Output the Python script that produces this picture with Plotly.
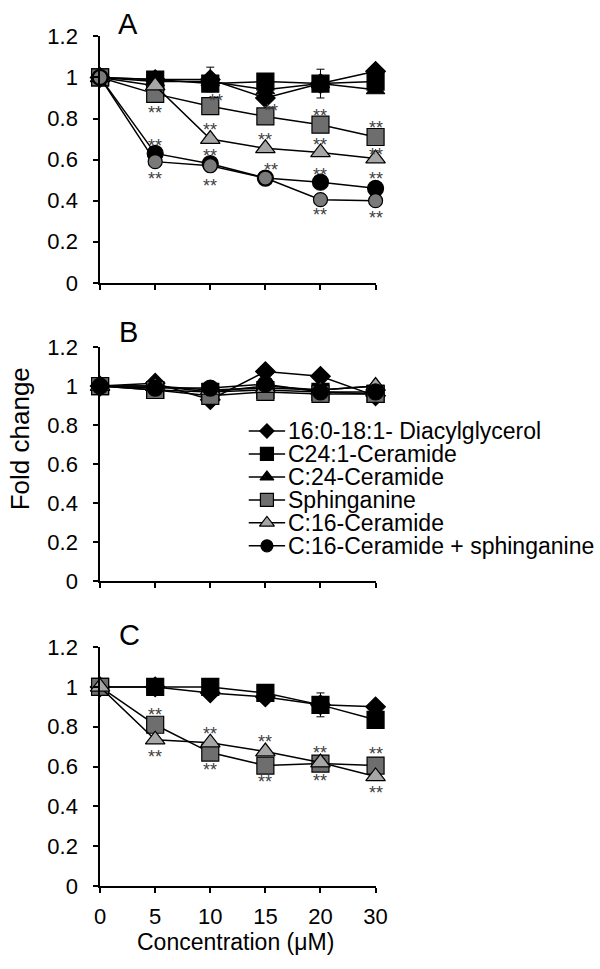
import plotly.graph_objects as go

concentrations = ["0", "5", "10", "15", "20", "30"]
series_names = [
    "16:0-18:1- Diacylglycerol",
    "C24:1-Ceramide",
    "C:24-Ceramide",
    "Sphinganine",
    "C:16-Ceramide",
    "C:16-Ceramide + sphinganine",
]

# Panel A values
a_dag = [1.00, 0.99, 0.99, 0.90, 0.97, 1.03]
a_c241 = [1.00, 0.99, 0.97, 0.98, 0.97, 0.98]
a_c24 = [1.00, 0.98, 0.98, 0.94, 0.97, 0.94]
a_sph = [1.00, 0.92, 0.86, 0.81, 0.77, 0.71]
a_c16 = [1.00, 0.96, 0.70, 0.655, 0.635, 0.605]
a_c16sph = [1.00, 0.63, 0.58, 0.51, 0.49, 0.46]
a_grey_circle = [1.00, 0.59, 0.57, 0.51, 0.405, 0.40]
a_dag_err = [0, 0.02, 0.06, 0.02, 0.02, 0.02]
a_c241_err = [0, 0.01, 0.02, 0.02, 0.07, 0.02]

# Panel B values
b_dag = [1.00, 1.015, 0.93, 1.075, 1.05, 0.95]
b_c241 = [1.00, 0.98, 0.97, 0.98, 0.97, 0.96]
b_c24 = [1.00, 1.00, 0.97, 1.00, 0.98, 1.00]
b_sph = [1.00, 0.98, 0.95, 0.97, 0.96, 0.96]
b_c16 = [1.00, 1.00, 0.98, 0.99, 0.98, 1.00]
b_c16sph = [1.00, 0.99, 0.99, 1.01, 0.97, 0.97]

# Panel C values
c_dag = [1.00, 1.00, 0.97, 0.95, 0.91, 0.90]
c_c241 = [1.00, 1.00, 1.00, 0.97, 0.91, 0.835]
c_sph = [1.00, 0.81, 0.67, 0.605, 0.615, 0.605]
c_c16 = [1.00, 0.735, 0.72, 0.675, 0.62, 0.55]
c_dag_err = [0, 0.01, 0.01, 0.01, 0.06, 0.02]

# significance marks (category index, value) per panel
sig_a = [(1, 0.85), (1, 0.69), (1, 0.53), (2.1, 0.91), (2, 0.77), (2, 0.64), (2, 0.495),
         (3.1, 0.86), (3, 0.72), (3.1, 0.575), (4, 0.835), (4, 0.695), (4, 0.55), (4, 0.355),
         (5, 0.78), (5, 0.645), (5, 0.53), (5, 0.34)]
sig_c = [(1, 0.885), (1, 0.675), (2, 0.79), (2, 0.61), (3, 0.75), (3, 0.545),
         (4, 0.695), (4, 0.55), (5, 0.69), (5, 0.49)]

xi = list(range(len(concentrations)))

styles = {
    "dag": dict(symbol="diamond", color="black", size=15),
    "c241": dict(symbol="square", color="black", size=17),
    "c24": dict(symbol="triangle-up", color="black", size=16),
    "sph": dict(symbol="square", color="#6e6e6e", size=17),
    "c16": dict(symbol="triangle-up", color="#a6a6a6", size=17),
    "c16sph": dict(symbol="circle", color="black", size=16),
    "greyc": dict(symbol="circle", color="#7a7a7a", size=14),
}
legend_keys = ["dag", "c241", "c24", "sph", "c16", "c16sph"]

fig = go.Figure()

def add(vals, key, name, axis, err=None):
    s = styles[key]
    tr = go.Scatter(
        x=xi, y=vals, mode="lines+markers", name=name,
        xaxis="x" + axis, yaxis="y" + axis,
        line=dict(color="black", width=1.5),
        marker=dict(symbol=s["symbol"], color=s["color"], size=s["size"],
                    line=dict(color="black", width=1.2)),
        showlegend=False, cliponaxis=False,
    )
    if err is not None:
        tr.error_y = dict(type="data", array=err, visible=True, color="black",
                          thickness=1, width=4)
    fig.add_trace(tr)

# Panel A (top)
add(a_dag, "dag", series_names[0], "", a_dag_err)
add(a_c241, "c241", series_names[1], "", a_c241_err)
add(a_c24, "c24", series_names[2], "")
add(a_sph, "sph", series_names[3], "")
add(a_c16, "c16", series_names[4], "")
add(a_c16sph, "c16sph", series_names[5], "")
add(a_grey_circle, "greyc", "grey", "")

# Panel B
add(b_dag, "dag", series_names[0], "2")
add(b_c241, "c241", series_names[1], "2")
add(b_c24, "c24", series_names[2], "2")
add(b_sph, "sph", series_names[3], "2")
add(b_c16, "c16", series_names[4], "2")
add(b_c16sph, "c16sph", series_names[5], "2")

# Panel C
add(c_dag, "dag", series_names[0], "3", c_dag_err)
add(c_c241, "c241", series_names[1], "3")
add(c_sph, "sph", series_names[3], "3")
add(c_c16, "c16", series_names[4], "3")

H = 969.0
W = 600.0
xdom = [97 / W, 381 / W]

def yd(top, bottom):
    return [1 - bottom / H, 1 - top / H]

font = "Liberation Sans, Arial, sans-serif"

# Compact legend (drawn on its own small axis so rows can be packed tightly)
leg_top, leg_step = 430, 23.6
leg_rows = [leg_top + i * leg_step for i in range(len(series_names))]
for i, (key, name) in enumerate(zip(legend_keys, series_names)):
    s = styles[key]
    fig.add_trace(go.Scatter(
        x=[0, 1], y=[leg_rows[i]] * 2, mode="lines", xaxis="x4", yaxis="y4",
        line=dict(color="black", width=1.5), showlegend=False, hoverinfo="skip"))
    fig.add_trace(go.Scatter(
        x=[0.5], y=[leg_rows[i]], mode="markers", xaxis="x4", yaxis="y4", name=name,
        marker=dict(symbol=s["symbol"], color=s["color"], size=s["size"] - 4,
                    line=dict(color="black", width=1.2)),
        showlegend=False, cliponaxis=False))

axcommon = dict(
    showline=True, linecolor="black", linewidth=1.5, ticks="outside",
    ticklen=5, tickwidth=1.5, tickcolor="black", showgrid=False, zeroline=False,
    tickfont=dict(family=font, size=22, color="black"),
)

def xaxis(show_labels, anchor):
    d = dict(axcommon)
    d.update(domain=xdom, range=[0, 5], tickvals=xi, ticktext=concentrations,
             showticklabels=show_labels, anchor=anchor, ticklabelstandoff=5)
    return d

def yaxis(dom, anchor):
    d = dict(axcommon)
    d.update(domain=dom, range=[0, 1.2], tickvals=[0, 0.2, 0.4, 0.6, 0.8, 1.0, 1.2],
             ticktext=["0", "0.2", "0.4", "0.6", "0.8", "1", "1.2"], anchor=anchor,
             ticklabelstandoff=11)
    return d

annotations = []
for (x, y) in sig_a:
    annotations.append(dict(x=x, y=y, xref="x", yref="y", text="**", showarrow=False,
                            font=dict(family=font, size=18, color="#404040"), yshift=-5))
for (x, y) in sig_c:
    annotations.append(dict(x=x, y=y, xref="x3", yref="y3", text="**", showarrow=False,
                            font=dict(family=font, size=18, color="#404040"), yshift=-5))

for label, xx, yy in [("A", 126, 12.5), ("B", 126, 328), ("C", 127, 639)]:
    annotations.append(dict(x=xx / W, y=1 - yy / H, xref="paper", yref="paper", text=label,
                            showarrow=False, font=dict(family=font, size=29, color="black"),
                            xanchor="center", yanchor="middle"))

for i, name in enumerate(series_names):
    annotations.append(dict(x=289 / W, y=leg_rows[i], xref="paper", yref="y4", text=name,
                            showarrow=False, xanchor="left", yanchor="middle",
                            font=dict(family=font, size=23, color="black")))

annotations.append(dict(x=14 / W, y=1 - 438 / H, xref="paper", yref="paper", text="Fold change",
                        textangle=-90, showarrow=False,
                        font=dict(family=font, size=26, color="black"),
                        xanchor="center", yanchor="middle"))
annotations.append(dict(x=237 / W, y=1 - 955 / H, xref="paper", yref="paper",
                        text="Concentration (μM)", showarrow=False,
                        font=dict(family=font, size=23, color="black"),
                        xanchor="center", yanchor="middle"))

fig.update_layout(
    width=600, height=969,
    margin=dict(l=0, r=0, t=0, b=0),
    paper_bgcolor="white", plot_bgcolor="white",
    xaxis=xaxis(False, "y"),
    yaxis=yaxis(yd(25, 278), "x"),
    xaxis2=xaxis(False, "y2"),
    yaxis2=yaxis(yd(344, 584), "x2"),
    xaxis3=xaxis(True, "y3"),
    yaxis3=yaxis(yd(652, 897), "x3"),
    xaxis4=dict(domain=[250 / W, 288 / W], range=[0, 1], visible=False, anchor="y4"),
    yaxis4=dict(domain=yd(410, 570), range=[570, 410], visible=False, anchor="x4"),
    annotations=annotations,
    showlegend=False,
)

fig.write_html("out.html", config={"displayModeBar": False},
               post_script="document.body.style.margin='0px';")
